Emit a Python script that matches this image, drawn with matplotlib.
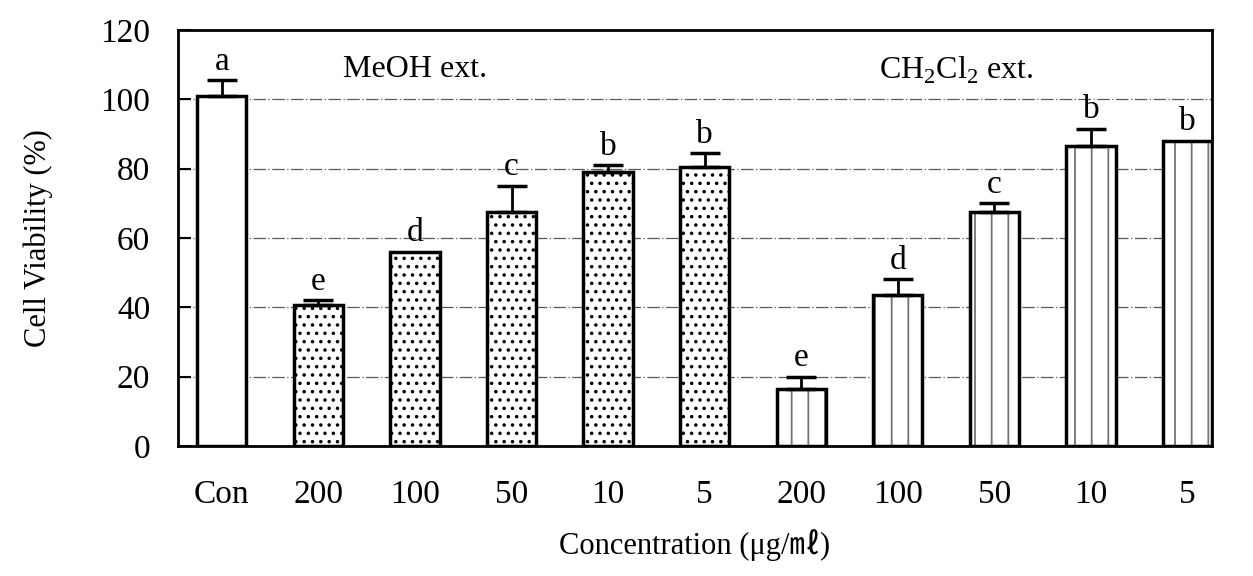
import matplotlib
matplotlib.use("Agg")
import matplotlib.pyplot as plt
import numpy as np

plt.rcParams['font.family'] = ['Liberation Serif', 'Noto Sans CJK KR', 'DejaVu Sans']
plt.rcParams['mathtext.fontset'] = 'custom'
plt.rcParams['mathtext.rm'] = 'Liberation Serif'
plt.rcParams['hatch.linewidth'] = 1.3

categories = ["Con", "200", "100", "50", "10", "5", "200", "100", "50", "10", "5"]
groups = ["con", "meoh", "meoh", "meoh", "meoh", "meoh", "ch2cl2", "ch2cl2", "ch2cl2", "ch2cl2", "ch2cl2"]
values = [101, 40.5, 56, 67.5, 79, 80.5, 16.5, 43.5, 67.5, 86.5, 88]
errors = [4.5, 1.5, 0, 7.5, 2, 4, 3.5, 4.5, 2.5, 5, 0]
letters = ["a", "e", "d", "c", "b", "b", "e", "d", "c", "b", "b"]
yticks = [0, 20, 40, 60, 80, 100, 120]

hatches = {"con": None, "meoh": "..", "ch2cl2": "|"}
hatch_colors = {"con": "black", "meoh": "black", "ch2cl2": "0.45"}

fig = plt.figure(figsize=(12.53, 5.76), dpi=100)
ax = fig.add_axes([0.142, 0.226, 0.825, 0.722])

x = np.arange(len(categories))
for yv in yticks[1:-1]:
    ax.axhline(yv, color='0.35', lw=0.9, ls=(0, (10, 2, 1, 2)), zorder=0)

for i in range(len(categories)):
    g = groups[i]
    ax.bar(x[i], values[i], width=0.51, color='white', edgecolor=hatch_colors[g],
           linewidth=0, hatch=hatches[g], zorder=2)
    ax.bar(x[i], values[i], width=0.51, fill=False, edgecolor='black',
           linewidth=2.5, zorder=2.5)
    if errors[i] > 0:
        ax.errorbar(x[i], values[i], yerr=[[0], [errors[i]]], fmt='none',
                    ecolor='black', elinewidth=2, capsize=11, capthick=2.5, zorder=3)
    ax.text(x[i], values[i] + errors[i] + 1.0, letters[i], ha='center', va='bottom',
            fontsize=24)

ax.text(2.0, 108.5, "MeOH ext.", ha='center', va='center', fontsize=23)
ax.text(7.6, 108.5, "CH$_2$Cl$_2$ ext.", ha='center', va='center', fontsize=23)

ax.set_xlim(-0.455, 10.25)
ax.set_ylim(0, 120)
ax.set_yticks(yticks)
ax.set_xticks(x)
ax.set_xticklabels(categories)
ax.tick_params(axis='y', direction='in', length=9, width=1.5, labelsize=24, pad=20)
ax.tick_params(axis='x', length=0, labelsize=24, pad=24)
for s in ax.spines.values():
    s.set_linewidth(2)

ax.set_ylabel("Cell Viability (%)", fontsize=22, labelpad=34)
ax.set_xlabel("Concentration (μg/㎖)", fontsize=22, labelpad=14)

fig.savefig("out.png", dpi=100)
